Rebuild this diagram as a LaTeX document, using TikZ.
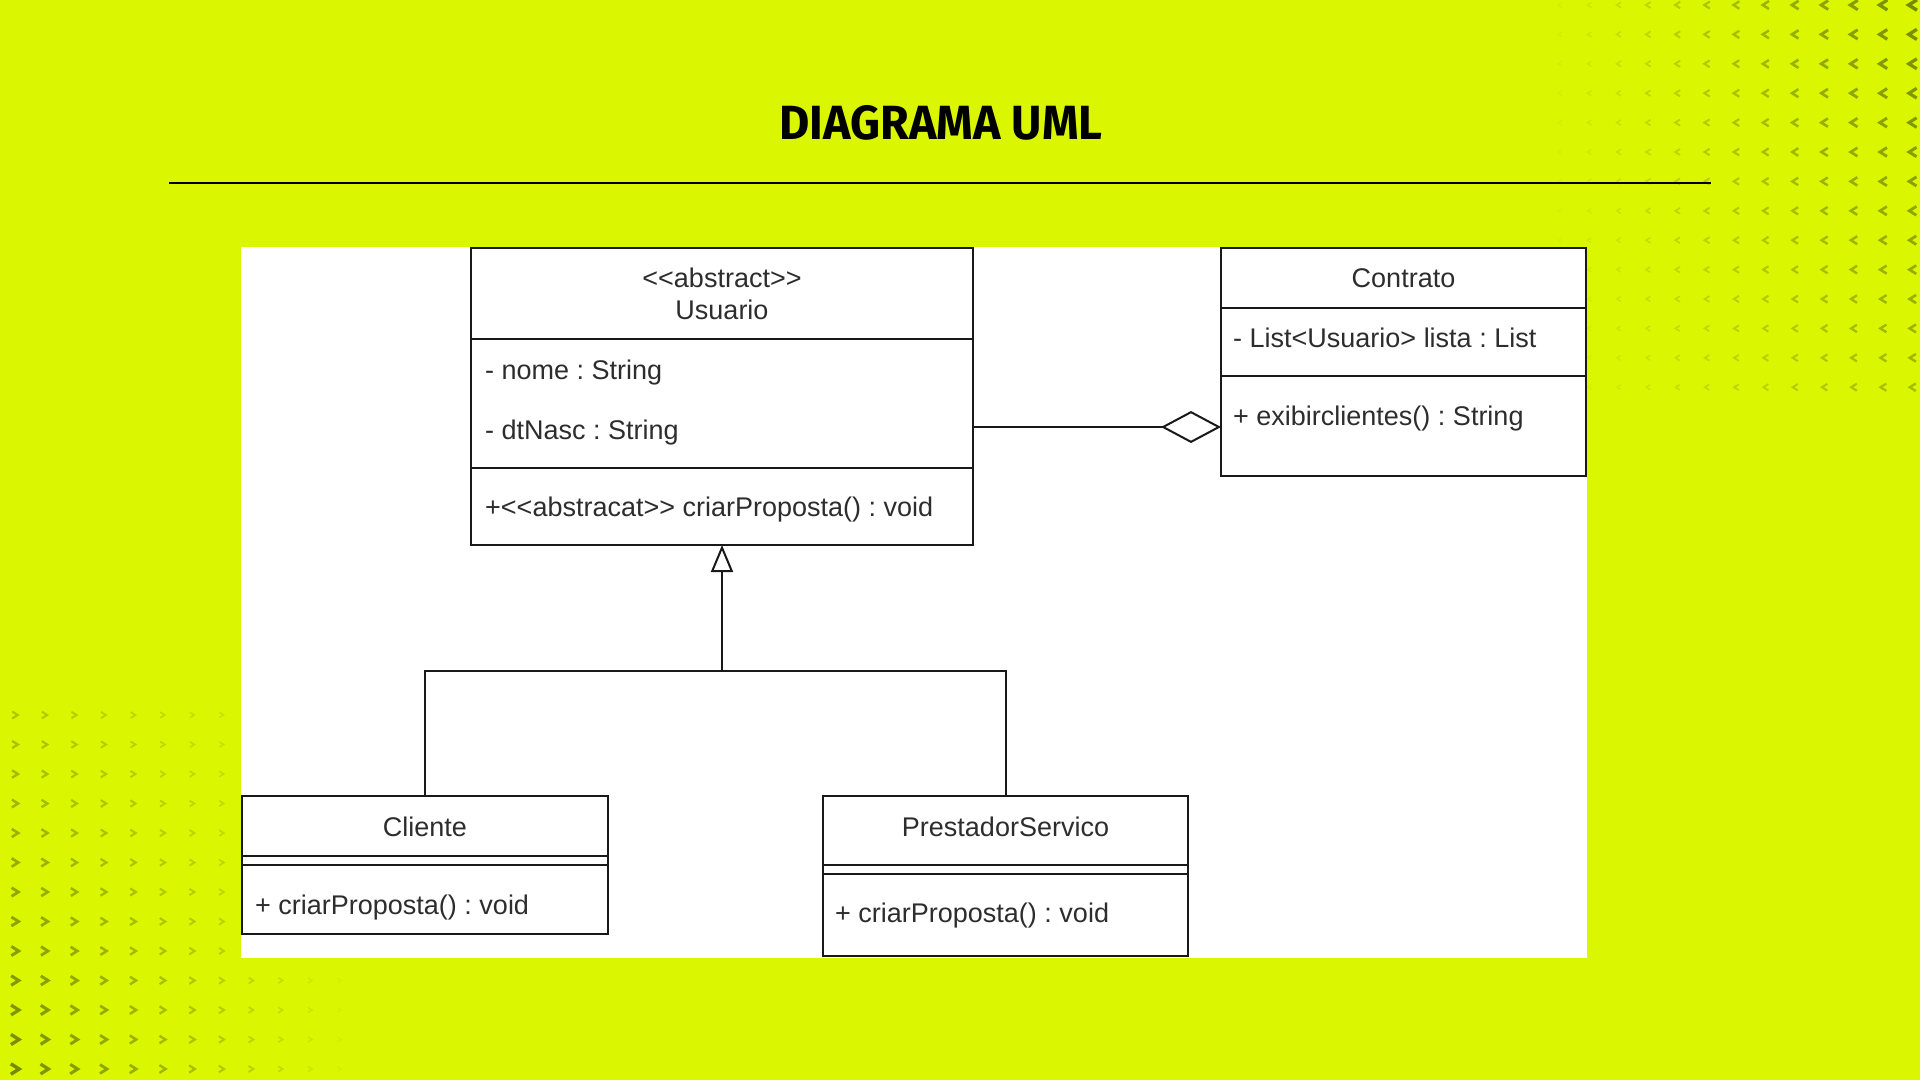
\documentclass[tikz,border=0pt]{standalone}
\usepackage{fontspec}
\setmainfont{Liberation Sans}
\newfontfamily\titlefont{Fira Sans}
\usetikzlibrary{arrows.meta}
\frenchspacing
\definecolor{bg}{RGB}{218,246,0}
\definecolor{chev}{RGB}{118,138,0}
\definecolor{txt}{RGB}{45,45,45}
\definecolor{edge}{RGB}{25,25,25}
\tikzset{
  umlbox/.style={draw=edge, line width=2pt, fill=white, rectangle, inner sep=0pt, outer sep=0pt, anchor=north west},
  umltxt/.style={anchor=base west, inner sep=0pt, text=txt, font=\fontsize{27}{32}\selectfont},
  umlttl/.style={anchor=base, inner sep=0pt, text=txt, font=\fontsize{27}{32}\selectfont},
  sepline/.style={draw=edge, line width=2pt},
  conn/.style={draw=edge, line width=2pt},
}
\begin{document}
\begin{tikzpicture}[x=1pt,y=-1pt]
\fill[bg] (0,0) rectangle (1920,1080);
\useasboundingbox (0,0) rectangle (1920,1080);
% top-right chevrons
\foreach \i in {0,...,12}{
  \foreach \j in {0,...,13}{
    \pgfmathsetmacro\t{(\i+1)/13*(1-0.45*\j/13)}
    \pgfmathsetmacro\s{2+3.2*\t}
    \pgfmathsetmacro\lw{1+2.4*\t}
    \pgfmathtruncatemacro\p{100*\t}
    \pgfmathsetmacro\x{1560+29.4*\i}
    \pgfmathsetmacro\y{5+29.4*\j}
    \draw[draw=chev!\p!bg, line width=\lw pt, line join=miter] (\x+0.8*\s,\y-\s) -- (\x-0.8*\s,\y) -- (\x+0.8*\s,\y+\s);
  }
}
% bottom-left chevrons
\foreach \i in {0,...,11}{
  \foreach \j in {0,...,12}{
    \pgfmathsetmacro\t{(1-\i/12)*(0.45+0.55*\j/12)}
    \pgfmathsetmacro\s{2+3.2*\t}
    \pgfmathsetmacro\lw{1+2.4*\t}
    \pgfmathtruncatemacro\p{100*\t}
    \pgfmathsetmacro\x{15+29.5*\i}
    \pgfmathsetmacro\y{715+29.5*\j}
    \draw[draw=chev!\p!bg, line width=\lw pt, line join=miter] (\x-0.8*\s,\y-\s) -- (\x+0.8*\s,\y) -- (\x-0.8*\s,\y+\s);
  }
}
% title and rule
\node[anchor=base, inner sep=0pt, font=\titlefont\bfseries\fontsize{48}{50}\selectfont] (title) at (941,139) {\scalebox{0.97}[1]{DIAGRAMA UML}};
\coordinate (rl) at (169,183);
\coordinate (rr) at (1711,183);
\draw[line width=2.5pt] (rl) -- (rr);
% white panel
\node[fill=white, inner sep=0pt, outer sep=0pt, minimum width=1346pt, minimum height=711pt, anchor=north west] (panel) at (241,247) {};
% Usuario
\node[umlbox, minimum width=502pt, minimum height=297pt] (usuario) at (471,248) {};
\draw[sepline] (usuario.west |- 0,339) -- (usuario.east |- 0,339);
\draw[sepline] (usuario.west |- 0,468) -- (usuario.east |- 0,468);
\node[umlttl] (u0) at (722,287) {<{}<abstract>{}>};
\node[umlttl] (u1) at (722,319) {Usuario};
\node[umltxt] (u2) at (485,379) {- nome : String};
\node[umltxt] (u3) at (485,439) {- dtNasc : String};
\node[umltxt] (u4) at (485,516) {+<{}<abstracat>{}> criarProposta() : void};
% Contrato
\node[umlbox, minimum width=365pt, minimum height=228pt] (contrato) at (1221,248) {};
\draw[sepline] (contrato.west |- 0,308) -- (contrato.east |- 0,308);
\draw[sepline] (contrato.west |- 0,376) -- (contrato.east |- 0,376);
\node[umlttl] (c0) at (1403.5,287) {Contrato};
\node[umltxt] (c1) at (1233,347) {- List<Usuario> lista : List};
\node[umltxt] (c2) at (1233,425) {+ exibirclientes() : String};
% Cliente
\node[umlbox, minimum width=366pt, minimum height=138pt] (cliente) at (242,796) {};
\draw[sepline] (cliente.west |- 0,856) -- (cliente.east |- 0,856);
\draw[sepline] (cliente.west |- 0,865) -- (cliente.east |- 0,865);
\node[umlttl] (k0) at (425,836) {Cliente};
\node[umltxt] (k1) at (255,914) {+ criarProposta() : void};
% PrestadorServico
\node[umlbox, minimum width=365pt, minimum height=160pt] (prestador) at (823,796) {};
\draw[sepline] (prestador.west |- 0,865) -- (prestador.east |- 0,865);
\draw[sepline] (prestador.west |- 0,874) -- (prestador.east |- 0,874);
\node[umlttl] (p0) at (1005.5,836) {PrestadorServico};
\node[umltxt] (p1) at (835,922) {+ criarProposta() : void};
% connectors
\draw[conn, -{Diamond[fill=white, length=60pt, width=32pt]}] (usuario.east |- 0,427) -- (contrato.west |- 0,427);
\coordinate (jn) at (usuario.south |- 0,671);
\draw[conn] (cliente.north) |- (prestador.north |- jn) -- (prestador.north);
\draw[conn, -{Triangle[fill=white, length=27pt, width=22pt]}] (jn) -- (usuario.south);
\end{tikzpicture}
\end{document}
